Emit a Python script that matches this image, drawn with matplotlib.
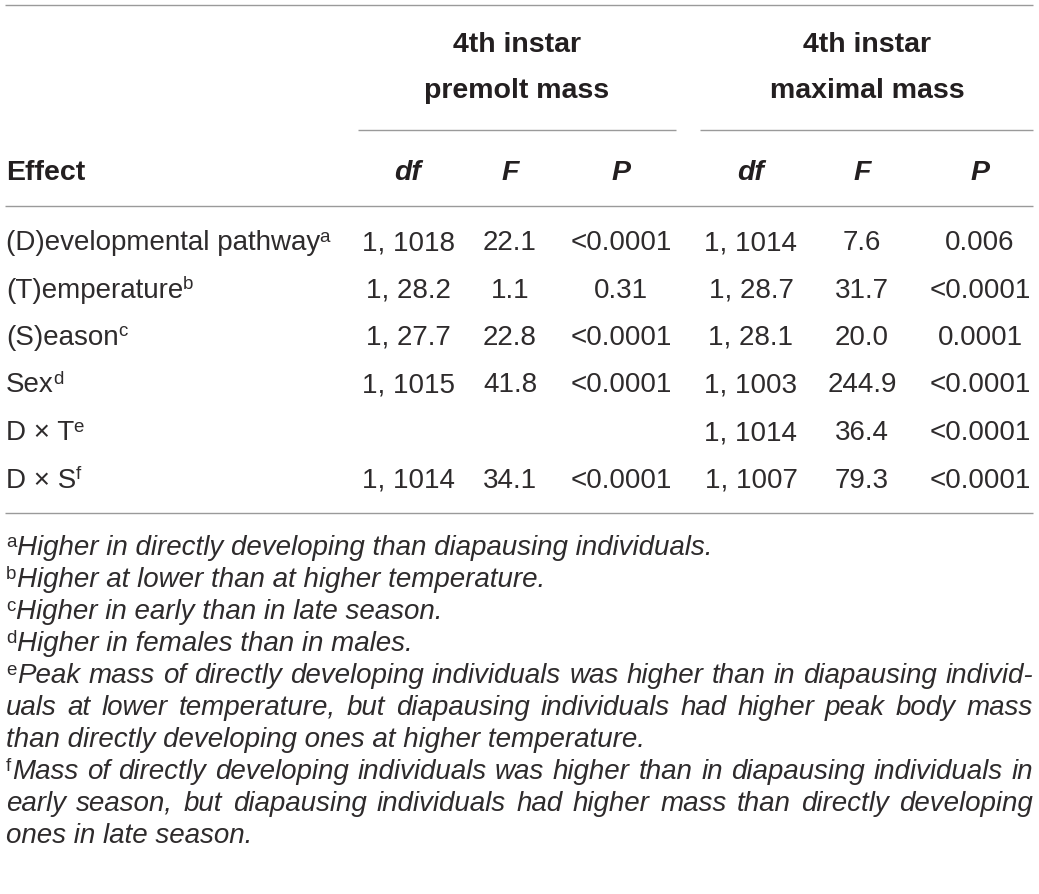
import matplotlib
matplotlib.use('Agg')
import matplotlib.pyplot as plt

# table contents
effects = ['(D)evelopmental pathway', '(T)emperature', '(S)eason', 'Sex', 'D \u00d7 T', 'D \u00d7 S']
marks = ['a', 'b', 'c', 'd', 'e', 'f']
premolt_df = ['1, 1018', '1, 28.2', '1, 27.7', '1, 1015', '', '1, 1014']
premolt_F = ['22.1', '1.1', '22.8', '41.8', '', '34.1']
premolt_P = ['<0.0001', '0.31', '<0.0001', '<0.0001', '', '<0.0001']
maximal_df = ['1, 1014', '1, 28.7', '1, 28.1', '1, 1003', '1, 1014', '1, 1007']
maximal_F = ['7.6', '31.7', '20.0', '244.9', '36.4', '79.3']
maximal_P = ['0.006', '<0.0001', '0.0001', '<0.0001', '<0.0001', '<0.0001']
groups = [['4th instar', 'premolt mass'], ['4th instar', 'maximal mass']]
col_heads = ['df', 'F', 'P', 'df', 'F', 'P']

# footnotes, broken into lines as printed (True = justified line)
notes = [
    ('a', [('Higher in directly developing than diapausing individuals.', False)]),
    ('b', [('Higher at lower than at higher temperature.', False)]),
    ('c', [('Higher in early than in late season.', False)]),
    ('d', [('Higher in females than in males.', False)]),
    ('e', [('Peak mass of directly developing individuals was higher than in diapausing individ-', True),
           ('uals at lower temperature, but diapausing individuals had higher peak body mass', True),
           ('than directly developing ones at higher temperature.', False)]),
    ('f', [('Mass of directly developing individuals was higher than in diapausing individuals in', True),
           ('early season, but diapausing individuals had higher mass than directly developing', True),
           ('ones in late season.', False)]),
]

FONT = 'Liberation Sans'
INK = '#231f20'
BODY = '#2e2b2c'
RULE = '#9a9a9a'
W, H = 1039, 894

fig = plt.figure(figsize=(W / 100, H / 100), dpi=100)
ax = fig.add_axes([0, 0, 1, 1])
ax.set_xlim(0, W)
ax.set_ylim(H, 0)
ax.axis('off')
rend = fig.canvas.get_renderer()


def txt(x, y, s, size=20, ha='left', color=BODY, **kw):
    return ax.text(x, y, s, fontsize=size, ha=ha, va='baseline', color=color,
                   family=FONT, **kw)


def wid(t):
    return t.get_window_extent(rend).width


def hline(y, x0, x1):
    ax.plot([x0, x1], [y, y], color=RULE, lw=1.0, solid_capstyle='butt')


left, right = 6, 1033
col_x = [408, 510, 621, 751, 862, 980]
group_x = [517, 867]
group_span = [(358, 676), (700, right)]

# rules
hline(5, 5, right)
for x0, x1 in group_span:
    hline(130, x0, x1)
hline(206, 5, right)
hline(513, 5, right)

# headers
for gx, (l1, l2) in zip(group_x, groups):
    txt(gx, 52, l1, size=20.5, ha='center', weight='bold', color=INK)
    txt(gx, 98, l2, size=20.5, ha='center', weight='bold', color=INK)
txt(left, 180, 'Effect', size=20.5, weight='bold', color=INK)
for cx, h in zip(col_x, col_heads):
    txt(cx, 180, h, size=20.5, ha='center', weight='bold', style='italic', color=INK)

# body rows
row_y = [250, 297.5, 345, 392.5, 440, 487.5]
columns = [premolt_df, premolt_F, premolt_P, maximal_df, maximal_F, maximal_P]
for i, y in enumerate(row_y):
    t = txt(left, y, effects[i])
    txt(left + wid(t) - 0.5, y - 8.5, marks[i], size=13.5)
    for cx, col in zip(col_x, columns):
        if col[i]:
            txt(cx, y, col[i], ha='center')

# footnotes
y = 555
for mark, lines in notes:
    sup = txt(left, y - 8, mark, size=13.5)
    x_start = left + wid(sup) + 0.5
    for k, (line, justify) in enumerate(lines):
        x0 = x_start if k == 0 else left
        if justify:
            words = line.split(' ')
            ts = [txt(0, y, w_, style='italic') for w_ in words]
            ws = [wid(t) for t in ts]
            gap = (right - x0 - sum(ws)) / (len(words) - 1)
            x = x0
            for t, w_ in zip(ts, ws):
                t.set_x(x)
                x += w_ + gap
        else:
            txt(x0, y, line, style='italic')
        y += 32

fig.savefig('out.png', dpi=100)
